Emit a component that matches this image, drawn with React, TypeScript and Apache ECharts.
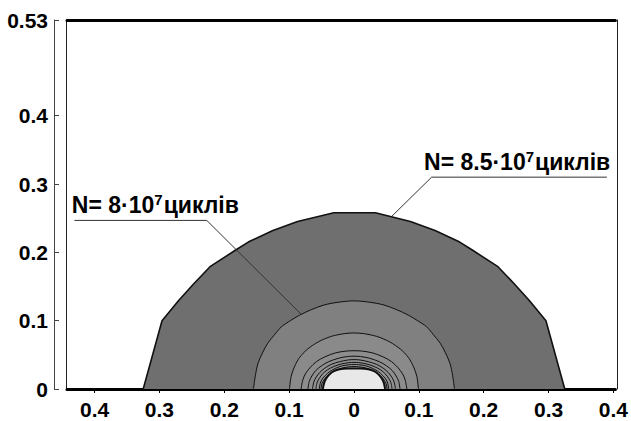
import React, { useEffect, useRef } from "react";
import * as echarts from "echarts";

// ---- axis ticks / labels ----
const xMin = -0.4425;
const xMax = 0.403;
const yMax = 0.54;
const xTicks = [-0.4, -0.3, -0.2, -0.1, 0, 0.1, 0.2, 0.3, 0.4];
const yTicks = [0, 0.1, 0.2, 0.3, 0.4, 0.54];
const yTickLabels = ["0", "0.1", "0.2", "0.3", "0.4", "0.53"];

// ---- contour lines (x, y) ----
const contour85 = [
  [-0.325, 0], [-0.296, 0.1], [-0.27, 0.13], [-0.247, 0.154], [-0.222, 0.179],
  [-0.183, 0.203], [-0.163, 0.215], [-0.125, 0.232], [-0.087, 0.245], [-0.031, 0.258],
  [0.033, 0.258], [0.087, 0.245], [0.125, 0.232], [0.163, 0.215], [0.183, 0.203],
  [0.222, 0.179], [0.247, 0.154], [0.27, 0.13], [0.296, 0.1], [0.325, 0],
];
const contour80 = [
  [-0.155, 0], [-0.152, 0.02], [-0.148, 0.0375], [-0.141, 0.053], [-0.133, 0.067],
  [-0.122, 0.08], [-0.112, 0.091], [-0.098, 0.1], [-0.084, 0.108], [-0.066, 0.116],
  [-0.046, 0.123], [-0.024, 0.127], [0, 0.129], [0.024, 0.127], [0.046, 0.123],
  [0.066, 0.116], [0.084, 0.108], [0.098, 0.1], [0.112, 0.091], [0.122, 0.08],
  [0.133, 0.067], [0.141, 0.053], [0.148, 0.0375], [0.152, 0.02], [0.155, 0],
];
const ringB = [
  [-0.0994, 0], [-0.097, 0.018], [-0.092, 0.032], [-0.084, 0.046], [-0.072, 0.058],
  [-0.055, 0.069], [-0.035, 0.077], [-0.015, 0.081], [0, 0.082], [0.015, 0.081],
  [0.035, 0.077], [0.055, 0.069], [0.072, 0.058], [0.084, 0.046], [0.092, 0.032],
  [0.097, 0.018], [0.0994, 0],
];
const ringC = [
  [-0.0816, 0], [-0.079, 0.013], [-0.075, 0.022], [-0.068, 0.031], [-0.058, 0.04],
  [-0.045, 0.047], [-0.028, 0.053], [-0.012, 0.0555], [0, 0.056], [0.012, 0.0555],
  [0.028, 0.053], [0.045, 0.047], [0.058, 0.04], [0.068, 0.031], [0.075, 0.022],
  [0.079, 0.013], [0.0816, 0],
];
const ringD = [
  [-0.071, 0], [-0.069, 0.011], [-0.065, 0.019], [-0.059, 0.027], [-0.05, 0.034],
  [-0.039, 0.04], [-0.024, 0.045], [-0.01, 0.0475], [0, 0.048], [0.01, 0.0475],
  [0.024, 0.045], [0.039, 0.04], [0.05, 0.034], [0.059, 0.027], [0.065, 0.019],
  [0.069, 0.011], [0.071, 0],
];
const ringE = [
  [-0.064, 0], [-0.062, 0.01], [-0.0585, 0.017], [-0.053, 0.024], [-0.045, 0.0305],
  [-0.035, 0.036], [-0.022, 0.04], [-0.009, 0.0425], [0, 0.043], [0.009, 0.0425],
  [0.022, 0.04], [0.035, 0.036], [0.045, 0.0305], [0.053, 0.024], [0.0585, 0.017],
  [0.062, 0.01], [0.064, 0],
];
const ringF = [
  [-0.0587, 0], [-0.057, 0.009], [-0.0535, 0.0155], [-0.0485, 0.022], [-0.041, 0.028],
  [-0.032, 0.0325], [-0.02, 0.0365], [-0.008, 0.0385], [0, 0.039], [0.008, 0.0385],
  [0.02, 0.0365], [0.032, 0.0325], [0.041, 0.028], [0.0485, 0.022], [0.0535, 0.0155],
  [0.057, 0.009], [0.0587, 0],
];
const ringG = [
  [-0.0535, 0], [-0.052, 0.0085], [-0.049, 0.0145], [-0.044, 0.02], [-0.0375, 0.0255],
  [-0.029, 0.03], [-0.018, 0.034], [-0.007, 0.0355], [0, 0.036], [0.007, 0.0355],
  [0.018, 0.034], [0.029, 0.03], [0.0375, 0.0255], [0.044, 0.02], [0.049, 0.0145],
  [0.052, 0.0085], [0.0535, 0],
];
const ringH = [
  [-0.051, 0], [-0.0495, 0.008], [-0.0465, 0.013], [-0.042, 0.0185], [-0.0355, 0.0235],
  [-0.0275, 0.0275], [-0.017, 0.031], [-0.007, 0.0325], [0, 0.033], [0.007, 0.0325],
  [0.017, 0.031], [0.0275, 0.0275], [0.0355, 0.0235], [0.042, 0.0185], [0.0465, 0.013],
  [0.0495, 0.008], [0.051, 0],
];
const core = [
  [-0.048, 0], [-0.046, 0.009], [-0.043, 0.015], [-0.038, 0.021], [-0.031, 0.026],
  [-0.022, 0.029], [-0.01, 0.03], [0, 0.03], [0.01, 0.03], [0.022, 0.029],
  [0.031, 0.026], [0.038, 0.021], [0.043, 0.015], [0.046, 0.009], [0.048, 0],
];

// ---- annotations ----
const leader85 = [[0.39, 0.31], [0.1197, 0.31], [0.0586, 0.253]];
const leader80 = [[-0.431, 0.2467], [-0.227, 0.2467], [-0.081, 0.109]];
const label85Pos = [0.108, 0.31];
const label80Pos = [-0.435, 0.2467];
const label85 = ["N= 8.5·10", "7", "циклів"];
const label80 = ["N= 8·10", "7", "циклів"];

const FONT = "'Liberation Sans', Arial, sans-serif";

export default function App() {
  const ref = useRef<HTMLDivElement>(null);
  useEffect(() => {
    if (!ref.current) return;
    const chart = echarts.init(ref.current, undefined, { renderer: "svg" });

    const layers = [
      { data: contour85, fill: "#6f6f6f", smooth: false, w: 1.6 },
      { data: contour80, fill: "#808080", smooth: 0.3, w: 1 },
      { data: ringB, fill: "#8a8a8a", smooth: 0.3, w: 1 },
      { data: ringC, fill: "#8d8d8d", smooth: 0.3, w: 1 },
      { data: ringD, fill: "#8f8f8f", smooth: 0.3, w: 1 },
      { data: ringE, fill: "#919191", smooth: 0.3, w: 1 },
      { data: ringF, fill: "#939393", smooth: 0.3, w: 1 },
      { data: ringG, fill: "#959595", smooth: 0.3, w: 1 },
      { data: ringH, fill: "#979797", smooth: 0.3, w: 1 },
      { data: core, fill: "#e8e8e8", smooth: 0.3, w: 2 },
    ];

    const series: any[] = layers.map((l) => ({
      type: "line",
      data: l.data,
      smooth: l.smooth,
      showSymbol: false,
      symbol: "none",
      lineStyle: { color: "#111", width: l.w },
      areaStyle: { color: l.fill, opacity: 1 },
      silent: true,
    }));
    [leader85, leader80].forEach((d) =>
      series.push({
        type: "line",
        data: d,
        showSymbol: false,
        symbol: "none",
        lineStyle: { color: "#333", width: 1 },
        silent: true,
        z: 5,
      })
    );

    const option: any = {
      animation: false,
      backgroundColor: "#fff",
      grid: { left: 67, right: 11, top: 20, bottom: 32 },
      xAxis: [
        {
          type: "value",
          min: xMin,
          max: xMax,
          position: "bottom",
          splitLine: { show: false },
          axisLine: { show: true, onZero: false, lineStyle: { color: "#000", width: 3 } },
          axisTick: { show: true, customValues: xTicks, length: 4, lineStyle: { color: "#000" } },
          axisLabel: {
            customValues: xTicks,
            formatter: (v: number) => String(Math.abs(Math.round(v * 10) / 10)),
            color: "#000",
            fontFamily: FONT,
            fontWeight: "bold",
            fontSize: 21,
            margin: 10,
          },
        },
        {
          type: "value",
          min: xMin,
          max: xMax,
          position: "top",
          splitLine: { show: false },
          axisLine: { show: true, onZero: false, lineStyle: { color: "#000", width: 3 } },
          axisTick: { show: false },
          axisLabel: { show: false },
        },
      ],
      yAxis: [
        {
          type: "value",
          min: 0,
          max: yMax,
          position: "left",
          offset: 13,
          splitLine: { show: false },
          axisLine: { show: true, onZero: false, lineStyle: { color: "#444", width: 1 } },
          axisTick: { show: true, inside: true, customValues: yTicks, length: 5, lineStyle: { color: "#444" } },
          axisLabel: {
            customValues: yTicks,
            formatter: (v: number) => {
              const i = yTicks.findIndex((t) => Math.abs(t - v) < 1e-6);
              return i >= 0 ? yTickLabels[i] : "";
            },
            color: "#000",
            fontFamily: FONT,
            fontWeight: "bold",
            fontSize: 21,
            margin: 6,
          },
        },
        {
          type: "value",
          min: 0,
          max: yMax,
          position: "left",
          offset: 1,
          splitLine: { show: false },
          axisLine: { show: true, onZero: false, lineStyle: { color: "#222", width: 1 } },
          axisTick: { show: false },
          axisLabel: { show: false },
        },
        {
          type: "value",
          min: 0,
          max: yMax,
          position: "right",
          offset: 2,
          splitLine: { show: false },
          axisLine: { show: true, onZero: false, lineStyle: { color: "#222", width: 1 } },
          axisTick: { show: false },
          axisLabel: { show: false },
        },
      ],
      series,
    };
    chart.setOption(option);

    const mk = (pos: number[], parts: string[]) => {
      const p = chart.convertToPixel({ xAxisIndex: 0, yAxisIndex: 0 }, pos) as number[];
      return {
        type: "text",
        x: p[0],
        y: p[1] - 3,
        z: 10,
        style: {
          text: `{a|${parts[0]}}{s|${parts[1]}}{a|${parts[2]}}`,
          align: "left",
          verticalAlign: "bottom",
          rich: {
            a: { fontSize: 23, fontWeight: "bold", fontFamily: FONT, fill: "#000", lineHeight: 24 },
            s: {
              fontSize: 15,
              fontWeight: "bold",
              fontFamily: FONT,
              fill: "#000",
              lineHeight: 15,
              padding: [0, 1, 11, 0],
            },
          },
        },
      };
    };
    chart.setOption({ graphic: [mk(label85Pos, label85), mk(label80Pos, label80)] });

    return () => chart.dispose();
  }, []);
  return <div ref={ref} style={{ width: 631, height: 421, position: "absolute", left: 0, top: 0 }} />;
}
